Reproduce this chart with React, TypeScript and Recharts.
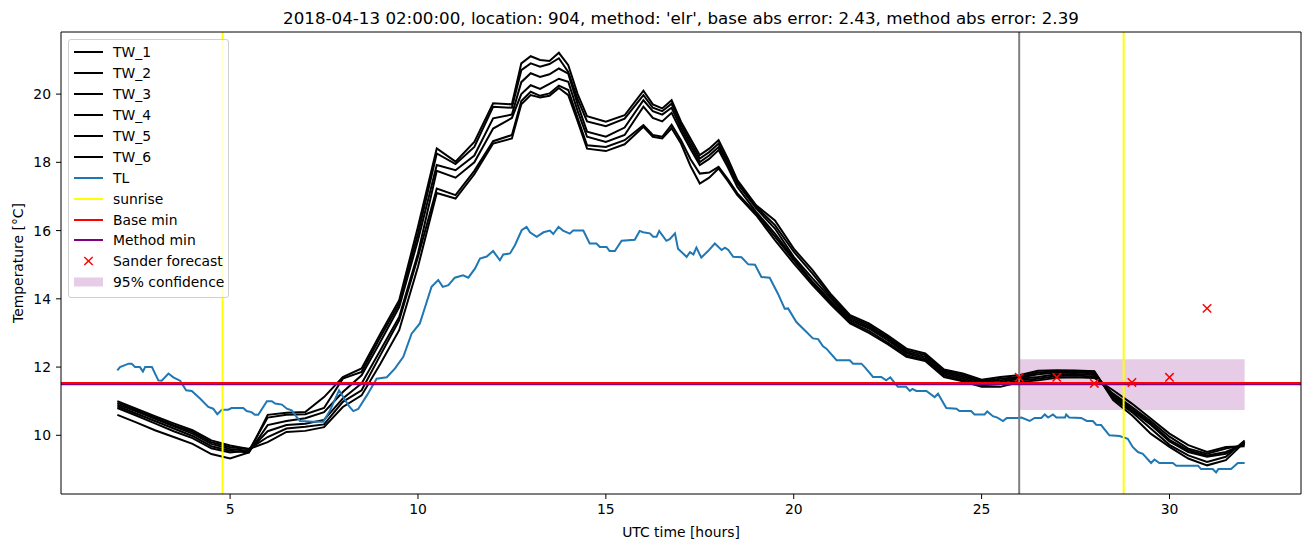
import React from 'react';
import {
  ComposedChart,
  Line,
  Scatter,
  XAxis,
  YAxis,
  ReferenceLine,
  ReferenceArea,
  Label,
} from 'recharts';

const FONT = "'DejaVu Sans', sans-serif";

// TL (air temperature)
const tlHours = [
  2.0, 2.07, 2.3, 2.38, 2.47, 2.6, 2.68, 2.74, 2.92, 3.09,
  3.18, 3.36, 3.49, 3.67, 3.83, 3.98, 4.2, 4.42, 4.55, 4.66,
  4.78, 4.95, 5.04, 5.35, 5.44, 5.57, 5.66, 5.75, 5.98, 6.11,
  6.2, 6.38, 6.51, 6.64, 6.77, 6.86, 7.22, 7.48, 7.66, 7.9,
  8.05, 8.17, 8.28, 8.41, 8.64, 8.9, 9.17, 9.39, 9.61, 9.83,
  10.05, 10.19, 10.36, 10.54, 10.66, 10.81, 10.98, 11.2, 11.34, 11.52,
  11.65, 11.83, 12.0, 12.18, 12.27, 12.45, 12.58, 12.76, 12.89, 12.98,
  13.16, 13.34, 13.51, 13.6, 13.74, 13.86, 14.04, 14.13, 14.4, 14.57,
  14.75, 14.84, 15.02, 15.1, 15.24, 15.42, 15.77, 15.9, 15.99, 16.17,
  16.26, 16.35, 16.42, 16.61, 16.7, 16.84, 16.92, 17.15, 17.24, 17.33,
  17.41, 17.54, 17.72, 17.9, 18.08, 18.17, 18.26, 18.39, 18.61, 18.79,
  18.97, 19.14, 19.36, 19.58, 19.76, 19.85, 20.07, 20.34, 20.51, 20.65,
  20.78, 20.87, 21.14, 21.49, 21.58, 21.8, 21.89, 22.11, 22.33, 22.46,
  22.57, 22.77, 22.99, 23.09, 23.16, 23.26, 23.53, 23.75, 23.84, 24.06,
  24.33, 24.41, 24.72, 24.81, 25.08, 25.15, 25.3, 25.42, 25.57, 25.67,
  25.97, 26.06, 26.28, 26.41, 26.59, 26.68, 26.77, 26.9, 26.99, 27.22,
  27.25, 27.33, 27.65, 27.8, 27.96, 28.05, 28.18, 28.4, 28.67, 28.89,
  29.02, 29.16, 29.29, 29.51, 29.6, 29.73, 30.09, 30.18, 30.76, 30.84,
  31.15, 31.24, 31.3, 31.64, 31.82, 32.0,
];
const tlTemps = [
  11.9, 12.0, 12.1, 12.1, 12.0, 12.0, 11.87, 12.0, 12.0, 11.61,
  11.6, 11.81, 11.7, 11.6, 11.32, 11.3, 11.08, 10.83, 10.78, 10.62,
  10.75, 10.75, 10.8, 10.8, 10.71, 10.68, 10.6, 10.6, 11.0, 11.0,
  10.93, 10.9, 10.78, 10.73, 10.54, 10.42, 10.4, 10.4, 10.73, 11.32,
  11.05, 10.85, 10.71, 10.77, 11.17, 11.66, 11.7, 11.96, 12.3, 12.98,
  13.28, 13.76, 14.35, 14.55, 14.35, 14.4, 14.62, 14.69, 14.62, 14.89,
  15.18, 15.24, 15.4, 15.13, 15.3, 15.33, 15.57, 16.01, 16.11, 15.95,
  15.82, 15.95, 16.0, 15.9, 16.11, 16.0, 15.91, 16.0, 16.0, 15.62,
  15.62, 15.52, 15.52, 15.4, 15.4, 15.7, 15.73, 15.99, 15.95, 15.92,
  15.82, 15.82, 15.99, 15.7, 15.75, 15.92, 15.47, 15.23, 15.37, 15.3,
  15.5, 15.21, 15.4, 15.62, 15.43, 15.5, 15.43, 15.23, 15.22, 15.01,
  15.0, 14.64, 14.62, 14.15, 13.71, 13.72, 13.32, 13.03, 12.84, 12.82,
  12.61, 12.54, 12.2, 12.2, 12.1, 12.1, 12.0, 11.71, 11.71, 11.61,
  11.7, 11.42, 11.42, 11.3, 11.36, 11.3, 11.3, 11.12, 11.22, 10.8,
  10.78, 10.71, 10.71, 10.61, 10.61, 10.7, 10.56, 10.52, 10.42, 10.51,
  10.51, 10.52, 10.42, 10.51, 10.51, 10.61, 10.52, 10.61, 10.52, 10.52,
  10.61, 10.52, 10.51, 10.42, 10.42, 10.31, 10.3, 10.0, 9.98, 9.9,
  9.66, 9.51, 9.46, 9.19, 9.29, 9.19, 9.19, 9.11, 9.11, 9.01,
  9.01, 8.91, 9.01, 9.01, 9.19, 9.19,
];

// TW_1 .. TW_6 share one time grid
const twHours = [
  2, 2.5, 3, 3.5, 4, 4.5, 5, 5.5, 6, 6.5,
  7, 7.5, 8, 8.5, 9, 9.5, 10, 10.5, 11, 11.5,
  12, 12.5, 12.75, 13, 13.25, 13.5, 13.75, 14, 14.25, 14.5,
  15, 15.5, 16, 16.25, 16.5, 16.75, 17, 17.25, 17.5, 17.75,
  18, 18.25, 18.5, 19, 19.5, 20, 20.5, 21, 21.5, 22,
  22.5, 23, 23.5, 24, 24.5, 25, 25.5, 26, 26.5, 27,
  27.5, 28, 28.5, 29, 29.5, 30, 30.5, 31, 31.5, 32,
];
const tw1 = [
  10.6, 10.38, 10.15, 9.95, 9.75, 9.45, 9.32, 9.5, 10.6, 10.66,
  10.68, 11.12, 11.71, 11.96, 12.98, 13.96, 16.11, 18.41, 18.02, 18.6,
  19.73, 19.7, 20.9, 21.11, 21.0, 20.97, 21.21, 20.85, 20.0, 19.35,
  19.19, 19.38, 20.1, 19.7, 19.58, 19.82, 19.19, 18.7, 18.21, 18.4,
  18.65, 18.1, 17.48, 16.74, 16.3, 15.47, 14.84, 14.12, 13.52, 13.28,
  12.93, 12.54, 12.4, 11.93, 11.81, 11.63, 11.71, 11.76, 11.89, 11.91,
  11.9, 11.88, 11.03, 10.59, 10.05, 9.66, 9.32, 9.12, 9.27, 9.8,
];
const tw2 = [
  10.8, 10.58, 10.35, 10.12, 9.92, 9.62, 9.5, 9.55, 10.52, 10.6,
  10.62, 10.8, 11.66, 11.86, 12.88, 13.86, 15.91, 18.26, 17.95, 18.45,
  19.63, 19.6, 20.7, 20.9, 20.8, 20.88, 21.05, 20.65, 19.85, 19.2,
  19.06, 19.28, 19.97, 19.6, 19.5, 19.72, 19.1, 18.6, 18.11, 18.3,
  18.55, 18.0, 17.43, 16.7, 16.16, 15.38, 14.74, 14.05, 13.47, 13.23,
  12.88, 12.49, 12.35, 11.89, 11.76, 11.59, 11.66, 11.71, 11.84, 11.88,
  11.88, 11.86, 11.08, 10.68, 10.2, 9.72, 9.41, 9.22, 9.37, 9.85,
];
const tw3 = [
  10.85, 10.64, 10.42, 10.2, 9.98, 9.68, 9.55, 9.5, 10.3, 10.42,
  10.5, 10.68, 11.27, 11.76, 12.74, 13.76, 15.72, 17.92, 17.77, 18.2,
  19.29, 19.4, 20.35, 20.61, 20.5, 20.58, 20.75, 20.6, 19.7, 18.9,
  18.75, 19.02, 19.82, 19.5, 19.4, 19.6, 19.0, 18.5, 18.01, 18.2,
  18.45, 17.95, 17.38, 16.65, 16.06, 15.23, 14.6, 14.0, 13.42, 13.18,
  12.84, 12.44, 12.3, 11.85, 11.71, 11.56, 11.61, 11.69, 11.79, 11.84,
  11.84, 11.82, 11.12, 10.73, 10.31, 9.82, 9.51, 9.37, 9.46, 9.78,
];
const tw4 = [
  10.9, 10.7, 10.48, 10.26, 10.05, 9.75, 9.6, 9.55, 10.12, 10.3,
  10.34, 10.45, 11.08, 11.52, 12.49, 13.47, 15.33, 17.75, 17.55, 18.0,
  18.99, 19.3, 20.0, 20.26, 20.15, 20.3, 20.45, 20.36, 19.5, 18.75,
  18.6, 18.8, 19.63, 19.3, 19.2, 19.45, 18.9, 18.4, 17.92, 18.1,
  18.36, 17.85, 17.28, 16.55, 15.91, 15.18, 14.5, 13.92, 13.37, 13.13,
  12.79, 12.4, 12.25, 11.81, 11.66, 11.52, 11.56, 11.66, 11.71, 11.79,
  11.8, 11.77, 11.17, 10.78, 10.36, 9.87, 9.56, 9.41, 9.51, 9.75,
];
const tw5 = [
  10.95, 10.74, 10.52, 10.3, 10.1, 9.8, 9.65, 9.6, 9.95, 10.2,
  10.25, 10.32, 10.98, 11.32, 12.35, 13.37, 15.23, 17.23, 17.04, 17.75,
  18.62, 18.8, 19.8, 20.07, 19.95, 20.02, 20.25, 20.12, 19.3, 18.5,
  18.45, 18.65, 19.09, 18.8, 18.75, 19.1, 18.65, 18.1, 17.67, 17.7,
  17.87, 17.5, 17.09, 16.5, 15.82, 15.13, 14.47, 13.87, 13.32, 13.06,
  12.72, 12.35, 12.2, 11.76, 11.61, 11.47, 11.5, 11.61, 11.66, 11.74,
  11.75, 11.72, 11.22, 10.83, 10.42, 9.96, 9.61, 9.46, 9.61, 9.72,
];
const tw6 = [
  11.0, 10.78, 10.56, 10.35, 10.15, 9.85, 9.7, 9.6, 9.8, 10.1,
  10.13, 10.24, 10.83, 11.17, 12.1, 13.08, 14.94, 17.1, 16.94, 17.65,
  18.55, 18.7, 19.7, 19.97, 19.9, 19.95, 20.18, 19.97, 19.2, 18.4,
  18.33, 18.53, 19.04, 18.75, 18.7, 19.0, 18.55, 17.9, 17.38, 17.55,
  17.82, 17.45, 17.04, 16.45, 15.72, 15.04, 14.4, 13.82, 13.28, 13.0,
  12.67, 12.3, 12.18, 11.71, 11.58, 11.42, 11.42, 11.56, 11.61, 11.69,
  11.7, 11.68, 11.32, 10.93, 10.49, 10.05, 9.71, 9.51, 9.66, 9.68,
];

const forecastHours = [26, 27, 28, 29, 30, 31];
const forecastTemps = [11.7, 11.7, 11.52, 11.55, 11.7, 13.72];

const sunriseHours = [4.8, 28.78];
const forecastStart = 26;
const baseMin = 11.53;
const methodMin = 11.5;
const confidenceRange = [10.74, 12.23];
const confidenceEnd = 32;

const xTicks = [5, 10, 15, 20, 25, 30];
const yTicks = [10, 12, 14, 16, 18, 20];
const xDomain = [0.5, 33.5];
const yDomain = [8.28, 21.82];

const toPoints = (hours: number[], temps: number[]) =>
  hours.map((h, i) => ({ h, v: temps[i] }));

const twSeries = [
  { name: 'TW_1', temps: tw1 },
  { name: 'TW_2', temps: tw2 },
  { name: 'TW_3', temps: tw3 },
  { name: 'TW_4', temps: tw4 },
  { name: 'TW_5', temps: tw5 },
  { name: 'TW_6', temps: tw6 },
];

const tickStyle = { fill: '#000', fontSize: 13.9, fontFamily: FONT };

const XMark = (props: any) => {
  const { cx, cy } = props;
  if (cx == null || cy == null) return null;
  const r = 4.2;
  return (
    <g>
      <line x1={cx - r} y1={cy - r} x2={cx + r} y2={cy + r} stroke="red" strokeWidth={1.5} />
      <line x1={cx - r} y1={cy + r} x2={cx + r} y2={cy - r} stroke="red" strokeWidth={1.5} />
    </g>
  );
};

const legendItems = [
  ...twSeries.map((s) => ({ label: s.name, kind: 'line', color: '#000' })),
  { label: 'TL', kind: 'line', color: '#1f77b4' },
  { label: 'sunrise', kind: 'line', color: 'yellow' },
  { label: 'Base min', kind: 'line', color: 'red' },
  { label: 'Method min', kind: 'line', color: 'purple' },
  { label: 'Sander forecast', kind: 'x', color: 'red' },
  { label: '95% confidence', kind: 'patch', color: 'rgba(128,0,128,0.2)' },
];

const ChartLegend = () => (
  <div
    style={{
      position: 'absolute',
      left: 68,
      top: 39,
      width: 161,
      boxSizing: 'border-box',
      padding: '2px 0 4px 5px',
      border: '1px solid #d0d0d0',
      borderRadius: 3,
      background: 'rgba(255,255,255,0.8)',
      fontFamily: FONT,
      fontSize: 13.9,
      color: '#000',
    }}
  >
    {legendItems.map((it) => (
      <div key={it.label} style={{ display: 'flex', alignItems: 'center', height: 20.9 }}>
        <svg width={29} height={14} style={{ marginRight: 10 }}>
          {it.kind === 'line' && (
            <line x1={0} y1={7} x2={29} y2={7} stroke={it.color} strokeWidth={2} />
          )}
          {it.kind === 'x' && (
            <g>
              <line x1={10.3} y1={3} x2={18.7} y2={11} stroke="red" strokeWidth={1.5} />
              <line x1={10.3} y1={11} x2={18.7} y2={3} stroke="red" strokeWidth={1.5} />
            </g>
          )}
          {it.kind === 'patch' && <rect x={0} y={2.5} width={29} height={9} fill={it.color} />}
        </svg>
        <span style={{ whiteSpace: 'nowrap' }}>{it.label}</span>
      </div>
    ))}
  </div>
);

export default function App() {
  const forecastData = toPoints(forecastHours, forecastTemps);
  return (
    <div
      style={{
        position: 'absolute',
        left: 0,
        top: 0,
        width: 1311,
        height: 547,
        background: '#fff',
      }}
    >
      <div
        style={{
          position: 'absolute',
          left: 61,
          width: 1240,
          top: 8,
          textAlign: 'center',
          fontFamily: FONT,
          fontSize: 16.7,
          color: '#000',
          whiteSpace: 'nowrap',
        }}
      >
        2018-04-13 02:00:00, location: 904, method: 'elr', base abs error: 2.43, method abs error: 2.39
      </div>
      <ComposedChart
        width={1311}
        height={547}
        margin={{ top: 32, right: 10, bottom: 0, left: 0 }}
      >
        <XAxis
          type="number"
          dataKey="h"
          domain={xDomain}
          allowDataOverflow
          ticks={xTicks}
          interval={0}
          height={53}
          tickSize={5}
          tickMargin={5}
          tick={tickStyle}
          tickLine={{ stroke: '#000' }}
          axisLine={{ stroke: '#000' }}
        >
          <Label
            value="UTC time [hours]"
            position="insideBottom"
            offset={10}
            style={{ fill: '#000', fontSize: 13.9, fontFamily: FONT }}
          />
        </XAxis>
        <YAxis
          type="number"
          dataKey="v"
          domain={yDomain}
          allowDataOverflow
          ticks={yTicks}
          interval={0}
          width={61}
          tickSize={5}
          tickMargin={5}
          tick={tickStyle}
          tickLine={{ stroke: '#000' }}
          axisLine={{ stroke: '#000' }}
        >
          <Label
            content={() => (
              <text
                x={18}
                y={263}
                transform="rotate(-90 18 263)"
                textAnchor="middle"
                dominantBaseline="central"
                fill="#000"
                fontSize={13.9}
                fontFamily={FONT}
              >
                Temperature [°C]
              </text>
            )}
          />
        </YAxis>

        <ReferenceArea
          x1={forecastStart}
          x2={confidenceEnd}
          y1={confidenceRange[0]}
          y2={confidenceRange[1]}
          fill="purple"
          fillOpacity={0.2}
          stroke="none"
        />

        {twSeries.map((s) => (
          <Line
            key={s.name}
            data={toPoints(twHours, s.temps)}
            dataKey="v"
            name={s.name}
            stroke="#000"
            strokeWidth={2}
            dot={false}
            activeDot={false}
            isAnimationActive={false}
          />
        ))}
        <Line
          data={toPoints(tlHours, tlTemps)}
          dataKey="v"
          name="TL"
          stroke="#1f77b4"
          strokeWidth={2}
          dot={false}
          activeDot={false}
          isAnimationActive={false}
        />

        {sunriseHours.map((h) => (
          <ReferenceLine key={h} x={h} stroke="yellow" strokeWidth={2} />
        ))}
        <ReferenceLine x={forecastStart} stroke="gray" strokeWidth={2} />
        <ReferenceLine y={methodMin} stroke="purple" strokeWidth={2} />
        <ReferenceLine y={baseMin} stroke="red" strokeWidth={2} />

        <Scatter
          data={forecastData}
          dataKey="v"
          name="Sander forecast"
          shape={XMark}
          isAnimationActive={false}
        />

        {/* top and right spines */}
        <ReferenceLine y={yDomain[1]} stroke="#000" strokeWidth={1} />
        <ReferenceLine x={xDomain[1]} stroke="#000" strokeWidth={1} />
      </ComposedChart>
      <ChartLegend />
    </div>
  );
}
